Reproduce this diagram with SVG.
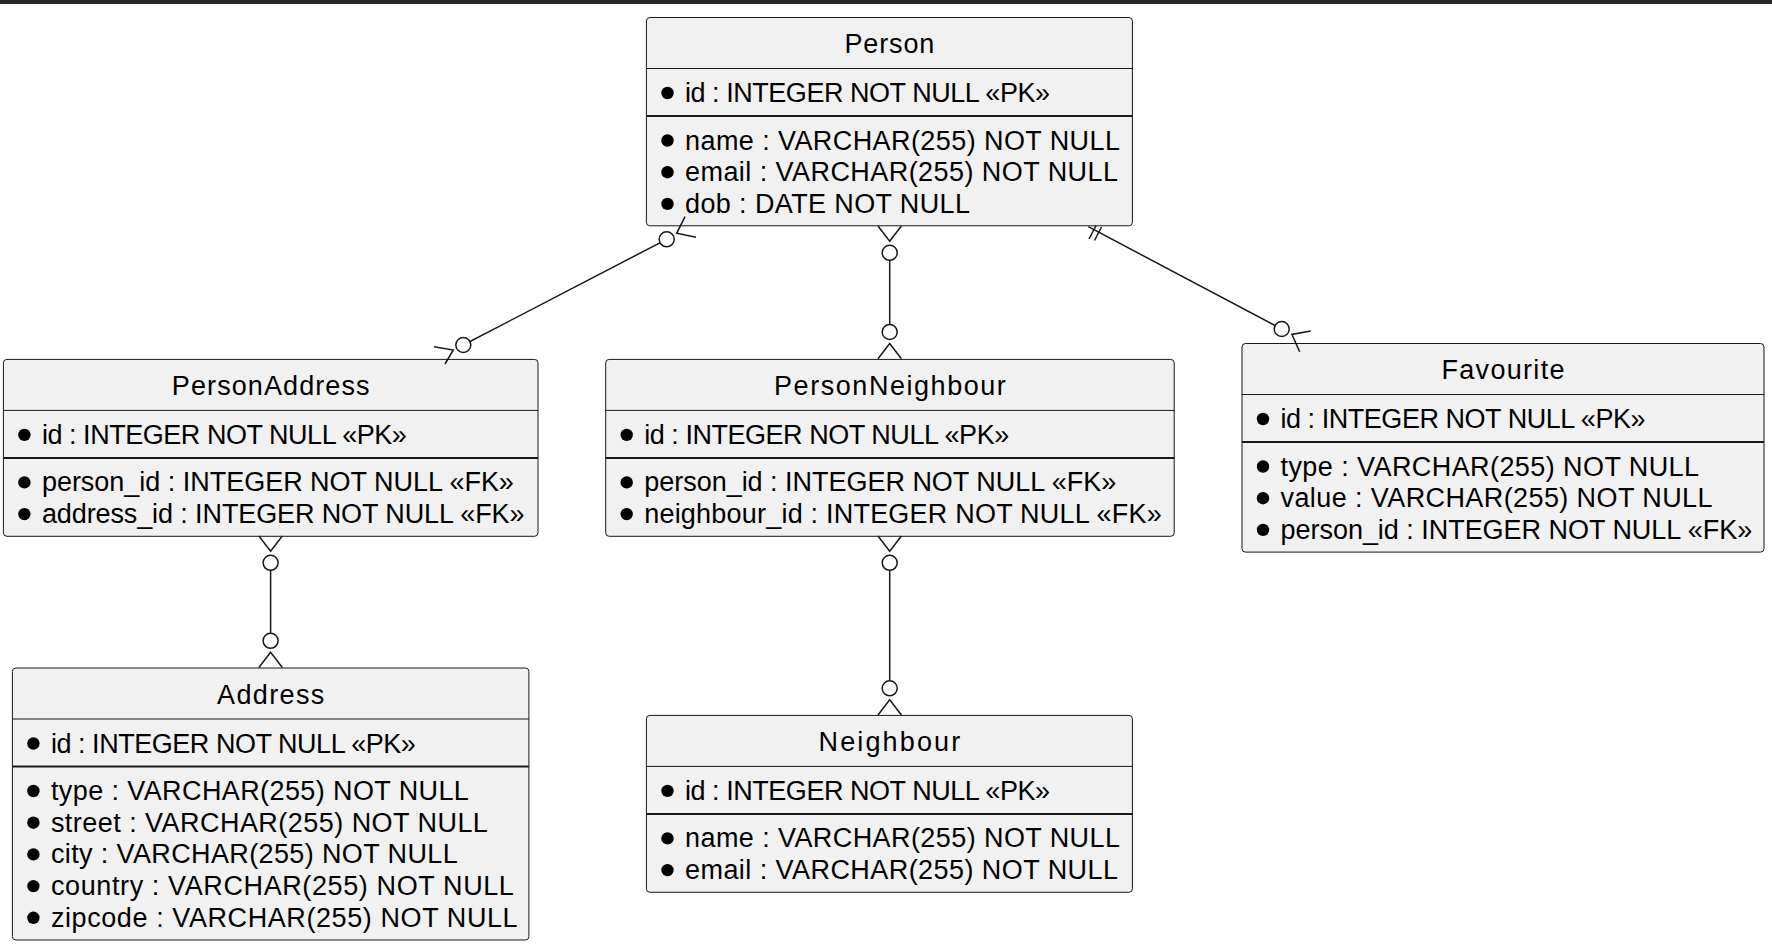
<svg xmlns="http://www.w3.org/2000/svg" width="1772" height="950" viewBox="0 0 1772 950">
<style>
.box{fill:#F1F1F1;stroke:#181818;stroke-width:1}
.sep{stroke:#181818;stroke-width:1}
.sep2{stroke:#181818;stroke-width:2}
.t{font-family:"Liberation Sans",Arial,Helvetica,sans-serif;font-size:27px;fill:#000000}
.title{text-anchor:middle}
.dot{fill:#000000}
.c{stroke:#181818;stroke-width:1.5;fill:none}
.o{fill:#FFFFFF;stroke:#181818;stroke-width:1.5}
</style>
<rect x="0" y="0" width="1772" height="950" fill="#FFFFFF"/>
<rect x="0" y="0" width="1772" height="4" fill="#262626"/>

<g id="Person">
<rect class="box" x="646.4" y="17.5" width="486" height="208.3" rx="3.5"/>
<text class="t title" x="889.4" y="53" textLength="90">Person</text>
<line class="sep" x1="646.4" y1="68.5" x2="1132.4" y2="68.5"/>
<circle class="dot" cx="667.5" cy="93" r="6.2"/>
<text class="t" x="685" y="102" textLength="365">id : INTEGER NOT NULL «PK»</text>
<line class="sep2" x1="646.4" y1="116" x2="1132.4" y2="116"/>
<circle class="dot" cx="667.5" cy="140.5" r="6.2"/>
<text class="t" x="685" y="149.5" textLength="435">name : VARCHAR(255) NOT NULL</text>
<circle class="dot" cx="667.5" cy="172.2" r="6.2"/>
<text class="t" x="685" y="181.2" textLength="433">email : VARCHAR(255) NOT NULL</text>
<circle class="dot" cx="667.5" cy="203.9" r="6.2"/>
<text class="t" x="685" y="212.9" textLength="285">dob : DATE NOT NULL</text>
</g>

<g id="PersonAddress">
<rect class="box" x="3.4" y="359.4" width="534.6" height="176.9" rx="3.5"/>
<text class="t title" x="270.7" y="394.9" textLength="197.7">PersonAddress</text>
<line class="sep" x1="3.4" y1="410.4" x2="538" y2="410.4"/>
<circle class="dot" cx="24.4" cy="434.9" r="6.2"/>
<text class="t" x="41.9" y="443.9" textLength="365">id : INTEGER NOT NULL «PK»</text>
<line class="sep2" x1="3.4" y1="457.9" x2="538" y2="457.9"/>
<circle class="dot" cx="24.4" cy="482.4" r="6.2"/>
<text class="t" x="41.9" y="491.4" textLength="472">person_id : INTEGER NOT NULL «FK»</text>
<circle class="dot" cx="24.4" cy="514.1" r="6.2"/>
<text class="t" x="41.9" y="523.1" textLength="482.6">address_id : INTEGER NOT NULL «FK»</text>
</g>

<g id="PersonNeighbour">
<rect class="box" x="605.7" y="359.4" width="568.5" height="176.9" rx="3.5"/>
<text class="t title" x="889.95" y="394.9" textLength="231.8">PersonNeighbour</text>
<line class="sep" x1="605.7" y1="410.4" x2="1174.2" y2="410.4"/>
<circle class="dot" cx="626.7" cy="434.9" r="6.2"/>
<text class="t" x="644.2" y="443.9" textLength="365">id : INTEGER NOT NULL «PK»</text>
<line class="sep2" x1="605.7" y1="457.9" x2="1174.2" y2="457.9"/>
<circle class="dot" cx="626.7" cy="482.4" r="6.2"/>
<text class="t" x="644.2" y="491.4" textLength="472">person_id : INTEGER NOT NULL «FK»</text>
<circle class="dot" cx="626.7" cy="514.1" r="6.2"/>
<text class="t" x="644.2" y="523.1" textLength="517.6">neighbour_id : INTEGER NOT NULL «FK»</text>
</g>

<g id="Favourite">
<rect class="box" x="1242" y="343.5" width="522" height="208.6" rx="3.5"/>
<text class="t title" x="1503" y="379" textLength="123">Favourite</text>
<line class="sep" x1="1242" y1="394.5" x2="1764" y2="394.5"/>
<circle class="dot" cx="1263" cy="419" r="6.2"/>
<text class="t" x="1280.5" y="428" textLength="365">id : INTEGER NOT NULL «PK»</text>
<line class="sep2" x1="1242" y1="442" x2="1764" y2="442"/>
<circle class="dot" cx="1263" cy="466.5" r="6.2"/>
<text class="t" x="1280.5" y="475.5" textLength="418.6">type : VARCHAR(255) NOT NULL</text>
<circle class="dot" cx="1263" cy="498.2" r="6.2"/>
<text class="t" x="1280.5" y="507.2" textLength="432">value : VARCHAR(255) NOT NULL</text>
<circle class="dot" cx="1263" cy="529.9" r="6.2"/>
<text class="t" x="1280.5" y="538.9" textLength="471.7">person_id : INTEGER NOT NULL «FK»</text>
</g>

<g id="Address">
<rect class="box" x="12.4" y="668" width="516.5" height="272" rx="3.5"/>
<text class="t title" x="270.65" y="703.5" textLength="107.3">Address</text>
<line class="sep" x1="12.4" y1="719" x2="528.9" y2="719"/>
<circle class="dot" cx="33.4" cy="743.5" r="6.2"/>
<text class="t" x="50.9" y="752.5" textLength="365">id : INTEGER NOT NULL «PK»</text>
<line class="sep2" x1="12.4" y1="766.5" x2="528.9" y2="766.5"/>
<circle class="dot" cx="33.4" cy="791" r="6.2"/>
<text class="t" x="50.9" y="800" textLength="418">type : VARCHAR(255) NOT NULL</text>
<circle class="dot" cx="33.4" cy="822.7" r="6.2"/>
<text class="t" x="50.9" y="831.7" textLength="437">street : VARCHAR(255) NOT NULL</text>
<circle class="dot" cx="33.4" cy="854.4" r="6.2"/>
<text class="t" x="50.9" y="863.4" textLength="406.8">city : VARCHAR(255) NOT NULL</text>
<circle class="dot" cx="33.4" cy="886.1" r="6.2"/>
<text class="t" x="50.9" y="895.1" textLength="463">country : VARCHAR(255) NOT NULL</text>
<circle class="dot" cx="33.4" cy="917.8" r="6.2"/>
<text class="t" x="50.9" y="926.8" textLength="466.7">zipcode : VARCHAR(255) NOT NULL</text>
</g>

<g id="Neighbour">
<rect class="box" x="646.4" y="715.4" width="486" height="176.9" rx="3.5"/>
<text class="t title" x="889.4" y="750.9" textLength="141.6">Neighbour</text>
<line class="sep" x1="646.4" y1="766.4" x2="1132.4" y2="766.4"/>
<circle class="dot" cx="667.5" cy="790.9" r="6.2"/>
<text class="t" x="685" y="799.9" textLength="365">id : INTEGER NOT NULL «PK»</text>
<line class="sep2" x1="646.4" y1="813.9" x2="1132.4" y2="813.9"/>
<circle class="dot" cx="667.5" cy="838.4" r="6.2"/>
<text class="t" x="685" y="847.4" textLength="435">name : VARCHAR(255) NOT NULL</text>
<circle class="dot" cx="667.5" cy="870.1" r="6.2"/>
<text class="t" x="685" y="879.1" textLength="433">email : VARCHAR(255) NOT NULL</text>
</g>

<g id="connectors">
<line class="c" x1="666.7" y1="239.3" x2="463.3" y2="345"/>
<polyline class="c" points="685,216.7 676.7,233.3 696,237.3"/>
<circle class="o" cx="666.7" cy="239.3" r="7.5"/>
<polyline class="c" points="434,346.7 453.3,350 445,364"/>
<circle class="o" cx="463.3" cy="345" r="7.5"/>
<line class="c" x1="889.7" y1="252.8" x2="889.7" y2="332"/>
<polyline class="c" points="878,226 889.7,241.3 901.4,226"/>
<circle class="o" cx="889.7" cy="252.8" r="7.5"/>
<polyline class="c" points="878,358.8 889.7,343.5 901.4,358.8"/>
<circle class="o" cx="889.7" cy="332" r="7.5"/>
<line class="c" x1="270.6" y1="562.8" x2="270.6" y2="640.8"/>
<polyline class="c" points="258.9,536 270.6,551.3 282.3,536"/>
<circle class="o" cx="270.6" cy="562.8" r="7.5"/>
<polyline class="c" points="258.9,667.5 270.6,652.3 282.3,667.5"/>
<circle class="o" cx="270.6" cy="640.8" r="7.5"/>
<line class="c" x1="889.7" y1="562.8" x2="889.7" y2="688.3"/>
<polyline class="c" points="878,536 889.7,551.3 901.4,536"/>
<circle class="o" cx="889.7" cy="562.8" r="7.5"/>
<polyline class="c" points="878,715 889.7,699.8 901.4,715"/>
<circle class="o" cx="889.7" cy="688.3" r="7.5"/>
<line class="c" x1="1088.3" y1="226.7" x2="1281.7" y2="329"/>
<line class="c" x1="1089" y1="239" x2="1096" y2="225.6"/>
<line class="c" x1="1094.5" y1="240.5" x2="1101.5" y2="227"/>
<circle class="o" cx="1281.7" cy="329" r="7.5"/>
<polyline class="c" points="1310.7,331.1 1291.9,334.4 1299.7,351.7"/>
</g>
</svg>
